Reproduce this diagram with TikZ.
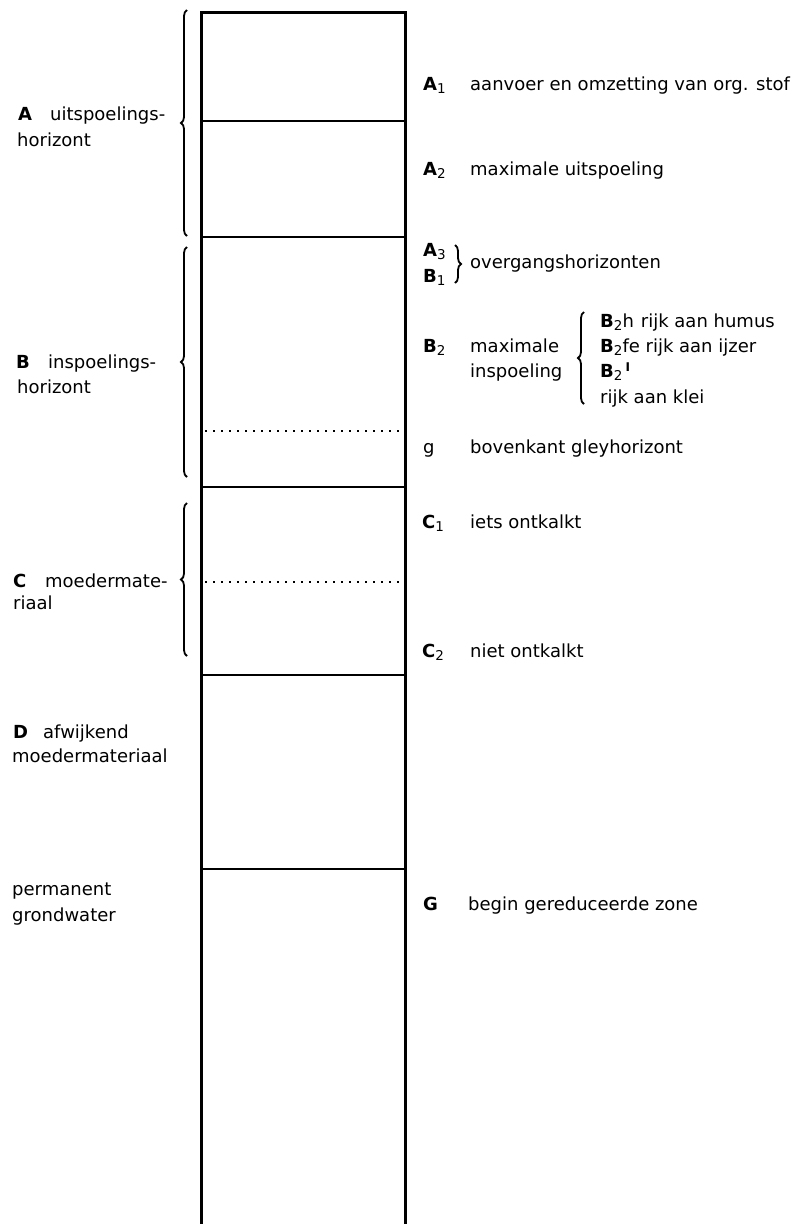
\documentclass[tikz,border=0pt]{standalone}
\usepackage{fontspec}
\setmainfont{DejaVu Sans}
\usetikzlibrary{decorations.pathreplacing}
% lowered index digit after a horizon letter
\newcommand\lowidx[1]{\raisebox{-3.5pt}{\fontsize{13.5}{14}\selectfont\mdseries #1}}
\newcommand\hz[2]{{\bfseries #1}\lowidx{#2}}
\begin{document}
\begin{tikzpicture}[x=1pt,y=-1pt,
  txt/.style={anchor=base west, inner sep=0pt, font=\fontsize{18}{22}\selectfont},
  wall/.style={line width=3pt, line join=miter},
  layer/.style={line width=2.2pt},
  dotline/.style={line width=2.4pt, dash pattern=on 2.4pt off 5.6pt},
  bracket/.style={line width=1.8pt, decorate, decoration={brace, amplitude=6pt}}]

\useasboundingbox (0,0) rectangle (798,1224);

% the soil column
\coordinate (ctl) at (201,12);
\coordinate (ctr) at (405,12);
\coordinate (cbl) at (201,1230);
\coordinate (cbr) at (405,1230);
\draw[wall] (cbl) -- (ctl) -- (ctr) -- (cbr);

% horizon boundaries
\foreach \y/\n in {121/a, 237/b, 487/c, 675/d, 869/e}{
  \coordinate (\n l) at (201,\y);
  \coordinate (\n r) at (405,\y);
  \draw[layer] (\n l) -- (\n r);
}
\coordinate (gl) at (205,431);  \coordinate (gr) at (403,431);
\coordinate (cl) at (205,582);  \coordinate (cr) at (403,582);
\draw[dotline] (gl) -- (gr);
\draw[dotline] (cl) -- (cr);

% braces grouping the main horizons
\coordinate (bAt) at (187,10);  \coordinate (bAb) at (187,236);
\coordinate (bBt) at (187,247); \coordinate (bBb) at (187,477);
\coordinate (bCt) at (187,503); \coordinate (bCb) at (187,656);
\draw[bracket] (bAb) -- (bAt);
\draw[bracket] (bBb) -- (bBt);
\draw[bracket] (bCb) -- (bCt);

% left-hand labels
\node[txt] (lA)  at (18,120)  {\bfseries A};
\node[txt] (lA1) at (50,120)  {uitspoelings-};
\node[txt] (lA2) at (17,146)  {horizont};
\node[txt] (lB)  at (16,368)  {\bfseries B};
\node[txt] (lB1) at (48,368)  {inspoelings-};
\node[txt] (lB2) at (17,393)  {horizont};
\node[txt] (lC)  at (13,587)  {\bfseries C};
\node[txt] (lC1) at (45,587)  {moedermate-};
\node[txt] (lC2) at (13,609)  {riaal};
\node[txt] (lD)  at (13,738)  {\bfseries D};
\node[txt] (lD1) at (43,738)  {afwijkend};
\node[txt] (lD2) at (12,762)  {moedermateriaal};
\node[txt] (lP1) at (12,895)  {permanent};
\node[txt] (lP2) at (12,921)  {grondwater};

% right-hand labels
\node[txt] (rA1) at (423,90)  {\hz{A}{1}};
\node[txt] (tA1) at (470,90)  {aanvoer en omzetting van org. stof};
\node[txt] (rA2) at (423,175) {\hz{A}{2}};
\node[txt] (tA2) at (470,175) {maximale uitspoeling};
\node[txt] (rA3) at (423,256) {\hz{A}{3}};
\node[txt] (rB1) at (423,282) {\hz{B}{1}};
\node[txt] (tAB) at (470,268) {overgangshorizonten};
\coordinate (oT) at (455,245);
\coordinate (oB) at (455,283);
\draw[bracket] (oT) -- (oB);

\node[txt] (rB2) at (423,352) {\hz{B}{2}};
\node[txt] (tB2a) at (470,352) {maximale};
\node[txt] (tB2b) at (470,377) {inspoeling};
\coordinate (sT) at (584,312);
\coordinate (sB) at (584,404);
\draw[bracket] (sB) -- (sT);
\node[txt] (sh) at (600,327) {\hz{B}{2}h\hspace{7pt}rijk aan humus};
\node[txt] (sf) at (600,352) {\hz{B}{2}fe rijk aan ijzer};
\node[txt] (sl) at (600,377) {\hz{B}{2}\raisebox{6pt}{\fontsize{12}{12}\selectfont\rmfamily\bfseries\hspace{3pt}I}};
\node[txt] (sk) at (600,403) {rijk aan klei};

\node[txt] (rg) at (423,453) {g};
\node[txt] (tg) at (470,453) {bovenkant gleyhorizont};
\node[txt] (rC1) at (422,528) {\hz{C}{1}};
\node[txt] (tC1) at (470,528) {iets ontkalkt};
\node[txt] (rC2) at (422,657) {\hz{C}{2}};
\node[txt] (tC2) at (470,657) {niet ontkalkt};
\node[txt] (rG) at (423,910) {\bfseries G};
\node[txt] (tG) at (468,910) {begin gereduceerde zone};
\end{tikzpicture}
\end{document}
